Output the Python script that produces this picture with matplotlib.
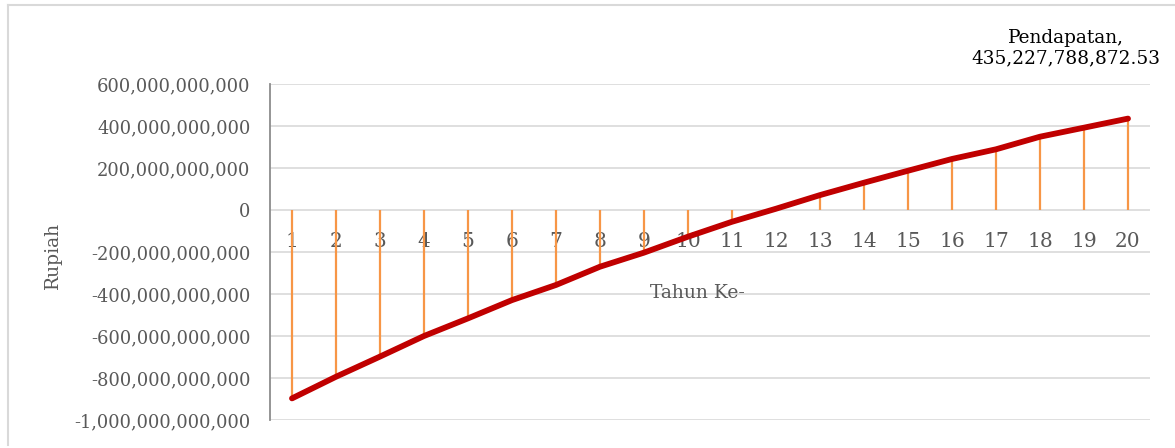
import matplotlib
matplotlib.use('Agg')
import matplotlib.pyplot as plt
from matplotlib.ticker import FuncFormatter
from matplotlib.lines import Line2D

# data (rupiah)
tahun = list(range(1, 21))
nilai = [-897e9, -794e9, -698e9, -600e9, -516e9, -429e9, -357e9, -270e9, -203e9, -127e9,
         -56e9, 6e9, 71e9, 130e9, 187e9, 243e9, 289e9, 349e9, 392e9, 435227788872.53]
yticks = [600e9, 400e9, 200e9, 0, -200e9, -400e9, -600e9, -800e9, -1000e9]
label_akhir = 'Pendapatan,\n435,227,788,872.53'

W, H = 1175, 448
fig = plt.figure(figsize=(W / 100, H / 100), dpi=100)
ax = fig.add_axes([270 / W, (H - 420) / H, 880 / W, 336 / H])

grey = '#595959'
ax.set_xlim(0.5, 20.5)
ax.set_ylim(-1000e9, 600e9)
ax.set_yticks(yticks)
ax.yaxis.set_major_formatter(FuncFormatter(lambda v, p: '{:,.0f}'.format(v).replace('\u2212', '-')))
ax.grid(axis='y', color='#D9D9D9', lw=1.2)
ax.set_axisbelow(True)

ax.vlines(tahun, 0, nilai, color='#F79646', lw=1.6, zorder=2)
ax.plot(tahun, nilai, color='#C00000', lw=4.2, solid_capstyle='round', zorder=3)

ax.set_xticks(tahun)
ax.set_xticklabels([str(t) for t in tahun])
ax.spines['bottom'].set_position(('data', 0))
ax.spines['bottom'].set_visible(False)
ax.spines['top'].set_visible(False)
ax.spines['right'].set_visible(False)
ax.spines['left'].set_color('#8C8C8C')
ax.spines['left'].set_linewidth(1.3)
ax.tick_params(axis='x', length=0, pad=16, labelsize=14.5, labelcolor=grey)
ax.tick_params(axis='y', length=0, pad=14, labelsize=12.9, labelcolor=grey)
for lab in ax.get_xticklabels() + ax.get_yticklabels():
    lab.set_family('DejaVu Serif')
    lab.set_zorder(5)

fig.text(53 / W, 1 - 255 / H, 'Rupiah', rotation=90, ha='center', va='center',
         family='DejaVu Serif', fontsize=13.5, color=grey)
fig.text(697 / W, 1 - 293 / H, 'Tahun Ke-', ha='center', va='center',
         family='DejaVu Serif', fontsize=13.5, color=grey)
fig.text(1066 / W, 1 - 48 / H, label_akhir, ha='center', va='center', multialignment='center',
         family='DejaVu Serif', fontsize=13.3, color='black', linespacing=1.15)

# chart border
fig.add_artist(Line2D([7.5 / W, 1], [1 - 5 / H, 1 - 5 / H], color='#D9D9D9', lw=1.5))
fig.add_artist(Line2D([7.5 / W, 7.5 / W], [1 - 5 / H, 1 - 445 / H], color='#D9D9D9', lw=1.5))

fig.savefig('out.png', dpi=100)
